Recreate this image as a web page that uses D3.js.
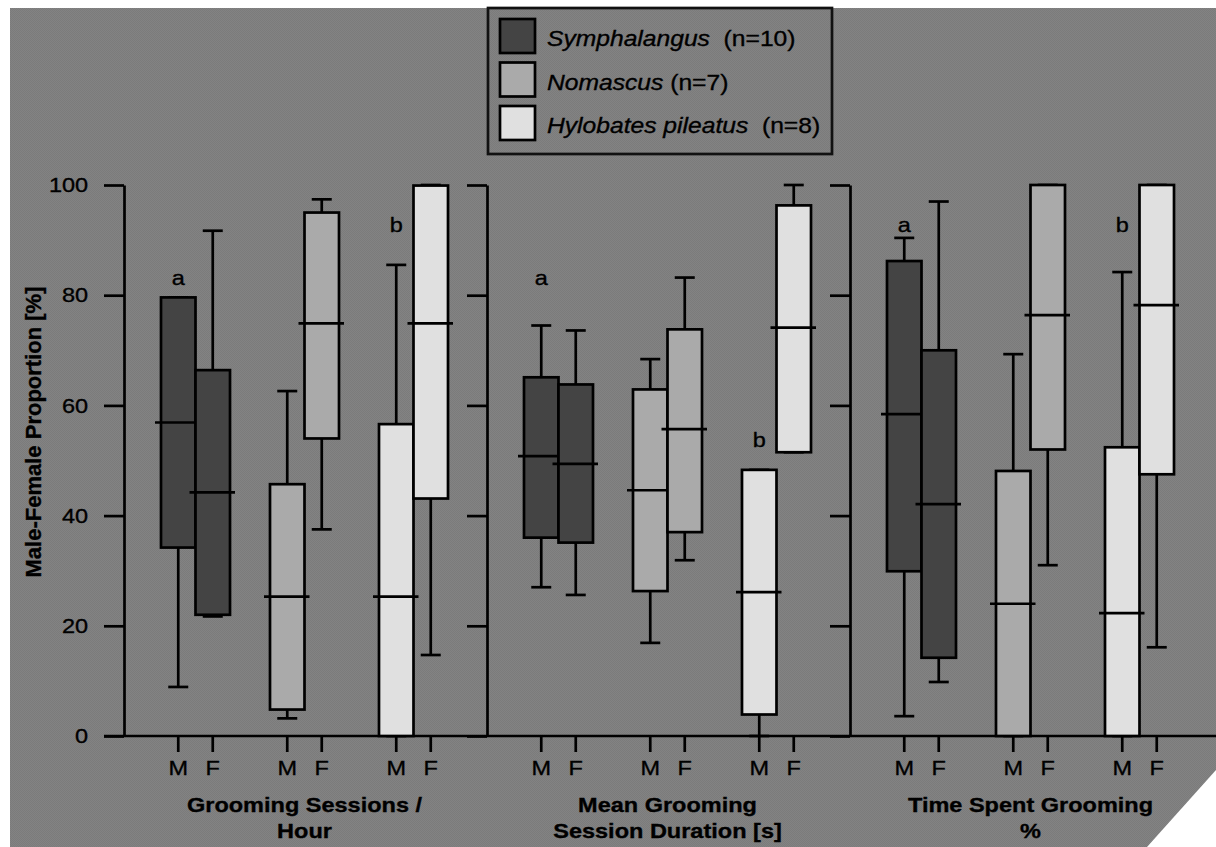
<!DOCTYPE html>
<html>
<head>
<meta charset="utf-8">
<script src="https://cdnjs.cloudflare.com/ajax/libs/d3/7.8.5/d3.min.js"></script>
<style>
body{margin:0;background:#fff}
svg{display:block}
text{font-family:"Liberation Sans",Arial,sans-serif;fill:#000;white-space:pre;stroke:#000;stroke-width:0.35px}
</style>
</head>
<body>
<script>
let species = ["Symphalangus", "Nomascus", "Hylobates pileatus"]
let speciesN = ["  (n=10)", " (n=7)", "  (n=8)"]
let colors = ["#444444", "#aaaaaa", "#e0e0e0"]
let sexes = ["M", "F"]
let measures = [["Grooming Sessions /", "Hour"], ["Mean Grooming", "Session Duration [s]"], ["Time Spent Grooming", "%"]]
let yTicks = [0, 20, 40, 60, 80, 100]

// [min, q1, median, q3, max] for Symph M, Symph F, Nom M, Nom F, Hyl M, Hyl F
let sessionsPerHour = [
    [8.9, 34.2, 56.9, 79.6, 79.6],
    [21.7, 22.0, 44.2, 66.4, 91.7],
    [3.2, 4.8, 25.3, 45.7, 62.6],
    [37.5, 54.0, 74.9, 95.0, 97.4],
    [0, 0, 25.3, 56.6, 85.5],
    [14.7, 43.1, 74.9, 99.9, 100]
]
let sessionDuration = [
    [27.0, 36.0, 50.8, 65.1, 74.5],
    [25.6, 35.1, 49.4, 63.8, 73.6],
    [16.9, 26.3, 44.6, 62.9, 68.4],
    [31.9, 37.0, 55.7, 73.8, 83.2],
    [0, 3.9, 26.1, 48.3, 48.3],
    [51.5, 51.5, 74.1, 96.3, 100]
]
let timeGrooming = [
    [3.6, 29.9, 58.4, 86.2, 90.4],
    [9.8, 14.2, 42.1, 70.0, 97.0],
    [0, 0, 24.0, 48.1, 69.3],
    [31.0, 52.0, 76.4, 100, 100],
    [0, 0, 22.3, 52.4, 84.2],
    [16.1, 47.5, 78.2, 100, 100]
]
let allStats = [sessionsPerHour, sessionDuration, timeGrooming]

// significance letters: measure, species, letter, height on y scale
let letters = [
    {m: 0, s: "Symphalangus", t: "a", at: 81.9},
    {m: 0, s: "Hylobates pileatus", t: "b", at: 91.5},
    {m: 1, s: "Symphalangus", t: "a", at: 81.9},
    {m: 1, s: "Hylobates pileatus", t: "b", at: 52.4},
    {m: 2, s: "Symphalangus", t: "a", at: 91.5},
    {m: 2, s: "Hylobates pileatus", t: "b", at: 91.5}
]

let w = 1216
let h = 847
let sx = 1.12   // the picture is a bit stretched sideways
let lw = 2.7

let svg = d3.select("body").append("svg")
    .attr("width", w)
    .attr("height", h)

let pat = svg.append("defs").append("pattern")
    .attr("id", "tex")
    .attr("width", 2).attr("height", 2)
    .attr("patternUnits", "userSpaceOnUse")
pat.append("rect").attr("width", 2).attr("height", 2).attr("fill", "#838383")
pat.append("rect").attr("width", 1).attr("height", 1).attr("fill", "#7b7b7b")
pat.append("rect").attr("x", 1).attr("y", 1).attr("width", 1).attr("height", 1).attr("fill", "#7b7b7b")

svg.append("path")
    .attr("d", `M10,8H${w}V770L1147,${h}H10Z`)
    .attr("fill", "url(#tex)")

let y = d3.scaleLinear().domain([0, 100]).range([736, 185])
let panelX = d3.scaleLinear().domain([0, 3]).range([124, 1213])
let groupX = d3.scaleBand().domain(species).range([37, 324]).paddingInner(40 / 109)
let sexX = d3.scaleBand().domain(sexes).range([0, groupX.bandwidth()])
let bw = sexX.bandwidth()

function label(g, x, yy, txt, size, bold, anchor) {
    return g.append("text")
        .attr("transform", `translate(${x},${yy}) scale(${sx},1)`)
        .attr("text-anchor", anchor || "middle")
        .style("font-size", size + "px")
        .style("font-weight", bold ? "bold" : "normal")
        .text(txt)
}

// baseline
svg.append("line")
    .attr("x1", 104).attr("x2", w)
    .attr("y1", y(0)).attr("y2", y(0))
    .attr("stroke", "#000").attr("stroke-width", lw)

measures.forEach((title, p) => {
    let x0 = panelX(p)
    let ax = svg.append("g")
        .attr("transform", `translate(${x0},0)`)
        .call(d3.axisLeft(y).tickValues(yTicks).tickSize(20).tickSizeOuter(0).tickPadding(12)
            .tickFormat(d => p == 0 ? d : ""))
    ax.selectAll("path,line").attr("stroke", "#000").attr("stroke-width", lw)
    ax.selectAll("text")
        .attr("transform", `scale(${sx},1)`)
        .style("font-size", "21px")
        .attr("fill", "#000")

    species.forEach(s => {
        let sa = svg.append("g")
            .attr("transform", `translate(${x0 + groupX(s)},${y(0)})`)
            .call(d3.axisBottom(sexX).tickSize(16).tickSizeOuter(0).tickPadding(8))
        sa.select(".domain").remove()
        sa.selectAll("line").attr("stroke", "#000").attr("stroke-width", lw)
        sa.selectAll("text")
            .attr("transform", `scale(${sx},1)`)
            .style("font-size", "21px")
            .attr("fill", "#000")
    })

    let cxMid = x0 + (groupX.range()[0] + groupX.range()[1]) / 2
    label(svg, cxMid, 812, title[0], 21, true)
    label(svg, cxMid, 838, title[1], 21, true)

    let items = species.flatMap((s, i) => sexes.map((sex, j) => ({
        s: s, i: i, sex: sex, v: allStats[p][i * 2 + j],
        cx: x0 + groupX(s) + sexX(sex) + bw / 2
    })))

    let g = svg.append("g").selectAll("g")
        .data(items)
        .enter()
        .append("g")
    g.append("line")
        .attr("x1", d => d.cx).attr("x2", d => d.cx)
        .attr("y1", d => y(d.v[0])).attr("y2", d => y(d.v[4]))
        .attr("stroke", "#000").attr("stroke-width", lw)
    g.selectAll(".cap")
        .data(d => [[d.cx, d.v[0]], [d.cx, d.v[4]]])
        .enter()
        .append("line")
        .attr("x1", d => d[0] - 10).attr("x2", d => d[0] + 10)
        .attr("y1", d => y(d[1])).attr("y2", d => y(d[1]))
        .attr("stroke", "#000").attr("stroke-width", lw)
    g.append("rect")
        .attr("x", d => d.cx - bw / 2)
        .attr("y", d => y(d.v[3]))
        .attr("width", bw)
        .attr("height", d => y(d.v[1]) - y(d.v[3]))
        .attr("fill", d => colors[d.i])
        .attr("stroke", "#000").attr("stroke-width", lw)
    g.append("line")
        .attr("x1", d => d.cx - bw / 2 - 6).attr("x2", d => d.cx + bw / 2 + 5)
        .attr("y1", d => y(d.v[2])).attr("y2", d => y(d.v[2]))
        .attr("stroke", "#000").attr("stroke-width", lw)
})

letters.forEach(d => {
    label(svg, panelX(d.m) + groupX(d.s) + sexX("M") + bw / 2, y(d.at), d.t, 21, false)
})

// y title
svg.append("text")
    .attr("transform", `translate(41,432) rotate(-90)`)
    .attr("text-anchor", "middle")
    .style("font-size", "22px")
    .style("font-weight", "bold")
    .text("Male-Female Proportion [%]")

// legend
let ly = d3.scalePoint().domain(species).range([36, 123])
let leg = svg.append("g")
leg.append("rect")
    .attr("x", 488).attr("y", 8)
    .attr("width", 344).attr("height", 146)
    .attr("fill", "none")
    .attr("stroke", "#111").attr("stroke-width", lw)
species.forEach((s, i) => {
    leg.append("rect")
        .attr("x", 500).attr("y", ly(s) - 17)
        .attr("width", 35).attr("height", 34)
        .attr("fill", colors[i])
        .attr("stroke", "#000").attr("stroke-width", lw)
    let t = label(leg, 547, ly(s) + 10, "", 22, false, "start")
    t.append("tspan").style("font-style", "italic").text(s)
    t.append("tspan").text(speciesN[i])
})
</script>
</body>
</html>
